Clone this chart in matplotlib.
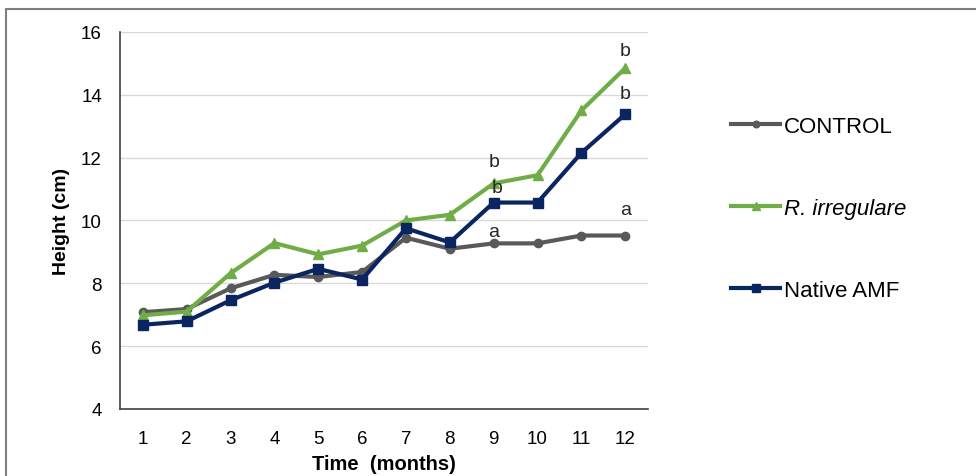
import numpy as np
import matplotlib.pyplot as plt
from matplotlib.patches import Rectangle

plt.rcParams['font.family'] = ['Liberation Sans', 'DejaVu Sans']

months = [1, 2, 3, 4, 5, 6, 7, 8, 9, 10, 11, 12]
control = [7.08, 7.18, 7.84, 8.27, 8.2, 8.36, 9.45, 9.1, 9.27, 9.27, 9.52, 9.52]
r_irregulare = [6.98, 7.1, 8.32, 9.28, 8.92, 9.2, 10.0, 10.18, 11.18, 11.44, 13.5, 14.85]
native_amf = [6.68, 6.79, 7.46, 8.02, 8.46, 8.12, 9.75, 9.3, 10.57, 10.57, 12.15, 13.38]

# significance letters: (month, height, letter)
letters_x = [12, 12, 9, 9, 9, 12]
letters_y = [14.85, 13.38, 11.18, 10.57, 9.27, 9.52]
letters = ['b', 'b', 'b', 'b', 'a', 'a']

fig = plt.figure(figsize=(9.76, 4.77), dpi=100)
ax = fig.add_axes([0.123, 0.1405, 0.541, 0.7905])

ax.plot(months, control, color='#595959', marker='o', markersize=6, lw=3, label='CONTROL')
ax.plot(months, r_irregulare, color='#70AD47', marker='^', markersize=7, lw=3, label='R. irregulare')
ax.plot(months, native_amf, color='#0B2561', marker='s', markersize=6.5, lw=3, label='Native AMF')

# vertical offsets (pixels) of each letter above its point
offsets = [18, 21, 22, 15, 12, 26]
dxs = [0, 0, 0, 3, 0, 0]
for x, y, t, o, d in zip(letters_x, letters_y, letters, offsets, dxs):
    ax.annotate(t, (x, y), xytext=(d * 0.72, o * 0.72), textcoords='offset points',
                ha='center', va='center', fontsize=14, color='#262626')

ax.set_xlim(0.48, 12.52)
ax.set_ylim(4, 16)
ax.set_xticks(months)
ax.set_yticks([4, 6, 8, 10, 12, 14, 16])
ax.tick_params(axis='both', length=0, labelsize=13.5)
ax.tick_params(axis='y', pad=13)
ax.tick_params(axis='x', pad=15)
ax.grid(axis='y', color='#d9d9d9', lw=1)
ax.set_axisbelow(True)
for s in ['top', 'right']:
    ax.spines[s].set_visible(False)
ax.spines['left'].set_color('#404040')
ax.spines['bottom'].set_color('#404040')
ax.spines['left'].set_linewidth(1.2)
ax.spines['bottom'].set_linewidth(1.2)

ax.set_xlabel('Time  (months)', fontsize=14.5, fontweight='bold', labelpad=5)
ax.set_ylabel('Height (cm)', fontsize=14, fontweight='bold', labelpad=8)

leg = ax.legend(loc='upper left', bbox_to_anchor=(1.12, 0.83), frameon=False,
                fontsize=16, labelspacing=2.75, handlelength=2.2, handletextpad=0.15,
                markerscale=0.8)
leg.get_texts()[1].set_fontstyle('italic')

fig.patches.append(Rectangle((0.006, -0.05), 1.1, 1.03, transform=fig.transFigure,
                             fill=False, edgecolor='#7f7f7f', lw=1.5))

fig.savefig('out.png', dpi=100)
